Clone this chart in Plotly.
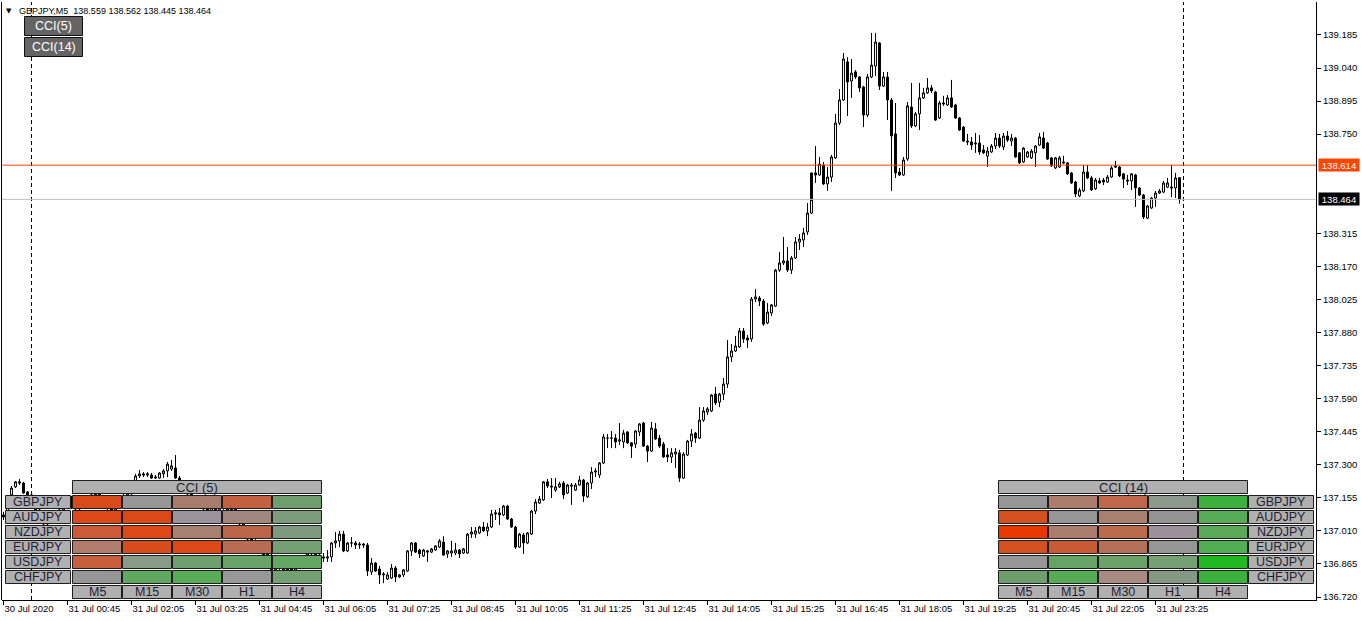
import plotly.graph_objects as go

# ---------------- data ----------------
chart_title = "GBPJPY,M5  138.559 138.562 138.445 138.464"

time_labels = ["30 Jul 2020", "31 Jul 00:45", "31 Jul 02:05", "31 Jul 03:25", "31 Jul 04:45",
               "31 Jul 06:05", "31 Jul 07:25", "31 Jul 08:45", "31 Jul 10:05", "31 Jul 11:25",
               "31 Jul 12:45", "31 Jul 14:05", "31 Jul 15:25", "31 Jul 16:45", "31 Jul 18:05",
               "31 Jul 19:25", "31 Jul 20:45", "31 Jul 22:05", "31 Jul 23:25"]
bars_per_label = 16
day_separator_bars = [7, 295]

price_ticks = [136.720, 136.865, 137.010, 137.155, 137.300, 137.445, 137.590, 137.735,
               137.880, 138.025, 138.170, 138.315, 138.750, 138.895, 139.040, 139.185]

ask_price = 138.614
bid_price = 138.464

opens = [
 137.080,137.071,137.168,137.203,137.225,137.220,137.181,137.168,137.141,137.102,
 137.075,137.040,137.049,137.062,137.080,137.102,137.124,137.154,137.115,137.106,
 137.119,137.137,137.154,137.168,137.172,137.163,137.137,137.111,137.102,137.124,
 137.146,137.163,137.172,137.189,137.251,137.260,137.255,137.255,137.242,137.242,
 137.260,137.273,137.281,137.286,137.242,137.211,137.189,137.172,137.154,137.132,
 137.115,137.106,137.097,137.111,137.102,137.119,137.111,137.102,137.106,137.093,
 137.040,137.005,136.974,136.966,136.948,136.917,136.904,136.904,136.839,136.856,
 136.847,136.839,136.843,136.834,136.847,136.874,136.900,136.909,136.913,136.904,
 136.896,136.891,136.896,136.957,136.966,136.996,136.922,136.957,136.957,136.948,
 136.952,136.948,136.830,136.869,136.843,136.817,136.799,136.803,136.847,136.808,
 136.817,136.834,136.922,136.957,136.926,136.900,136.917,136.917,136.926,136.939,
 136.961,136.909,136.913,136.913,136.926,136.913,136.913,136.996,136.996,137.001,
 137.027,137.010,137.027,137.084,137.089,137.080,137.119,137.062,137.027,136.939,
 136.992,136.957,136.996,137.097,137.132,137.146,137.225,137.207,137.189,137.203,
 137.220,137.176,137.211,137.189,137.211,137.233,137.159,137.220,137.268,137.255,
 137.308,137.417,137.417,137.417,137.404,137.400,137.444,137.396,137.391,137.444,
 137.483,137.382,137.360,137.457,137.417,137.391,137.343,137.334,137.347,137.352,
 137.242,137.343,137.404,137.439,137.417,137.496,137.531,137.536,137.610,137.575,
 137.610,137.654,137.773,137.799,137.817,137.887,137.856,137.852,138.027,138.031,
 138.018,137.922,137.966,137.996,138.154,138.185,138.194,138.154,138.207,138.277,
 138.286,138.321,138.404,138.580,138.571,138.615,138.532,138.562,138.646,138.799,
 138.900,139.067,138.983,139.023,139.001,138.957,138.834,139.001,139.049,139.150,
 138.961,139.001,138.900,138.751,138.584,138.571,138.641,138.869,138.786,138.839,
 138.909,138.931,138.953,138.935,138.821,138.887,138.878,138.909,138.878,138.821,
 138.781,138.720,138.716,138.707,138.711,138.681,138.654,138.672,138.698,138.733,
 138.694,138.742,138.720,138.733,138.668,138.628,138.650,138.646,138.668,138.702,
 138.733,138.711,138.646,138.602,138.606,138.628,138.624,138.580,138.540,138.479,
 138.501,138.584,138.558,138.510,138.545,138.549,138.540,138.562,138.611,138.606,
 138.576,138.549,138.545,138.571,138.514,138.483,138.382,138.426,138.470,138.492,
 138.496,138.518,138.518,138.514,138.559]

highs = [
 137.093,137.132,137.207,137.229,137.238,137.225,137.185,137.172,137.150,137.115,
 137.084,137.058,137.071,137.089,137.111,137.132,137.159,137.163,137.124,137.128,
 137.146,137.163,137.181,137.185,137.181,137.168,137.146,137.124,137.132,137.154,
 137.172,137.185,137.198,137.260,137.277,137.268,137.268,137.264,137.255,137.268,
 137.281,137.312,137.321,137.343,137.251,137.220,137.203,137.185,137.163,137.146,
 137.124,137.119,137.119,137.119,137.128,137.124,137.115,137.115,137.111,137.102,
 137.049,137.014,136.983,136.974,136.957,136.926,136.917,136.913,136.865,136.860,
 136.856,136.852,136.847,136.856,136.878,136.904,136.913,136.917,136.917,136.913,
 136.913,136.926,136.961,137.005,137.010,137.010,136.961,136.983,136.966,136.961,
 136.957,136.957,136.891,136.874,136.856,136.830,136.830,136.865,136.856,136.821,
 136.843,136.926,136.961,136.961,136.931,136.931,136.926,136.935,136.948,136.974,
 136.987,136.926,136.966,136.957,136.931,136.935,137.001,137.027,137.027,137.032,
 137.049,137.045,137.102,137.102,137.111,137.124,137.124,137.067,137.032,137.001,
 137.001,137.005,137.102,137.150,137.163,137.229,137.238,137.242,137.242,137.225,
 137.229,137.216,137.220,137.220,137.251,137.238,137.225,137.290,137.286,137.312,
 137.435,137.435,137.448,137.435,137.483,137.453,137.448,137.400,137.453,137.483,
 137.488,137.387,137.488,137.483,137.431,137.400,137.373,137.373,137.373,137.365,
 137.356,137.409,137.457,137.444,137.553,137.553,137.553,137.610,137.641,137.615,
 137.681,137.847,137.830,137.865,137.900,137.900,137.869,138.036,138.071,138.040,
 138.027,138.009,138.005,138.159,138.233,138.299,138.255,138.216,138.299,138.312,
 138.339,138.448,138.457,138.698,138.650,138.628,138.606,138.659,138.839,138.948,
 139.106,139.088,139.080,139.031,139.005,138.962,139.014,139.194,139.194,139.154,
 139.023,139.023,138.909,138.887,138.602,138.650,138.891,138.975,138.847,138.975,
 138.953,138.996,138.966,138.940,138.896,138.918,138.922,138.988,138.883,138.825,
 138.786,138.751,138.738,138.755,138.746,138.702,138.694,138.707,138.755,138.751,
 138.755,138.764,138.751,138.738,138.672,138.694,138.676,138.685,138.702,138.755,
 138.760,138.716,138.650,138.650,138.655,138.655,138.628,138.584,138.545,138.514,
 138.615,138.615,138.567,138.558,138.558,138.558,138.571,138.611,138.633,138.611,
 138.580,138.571,138.580,138.576,138.518,138.488,138.439,138.474,138.501,138.510,
 138.545,138.558,138.615,138.580,138.562]

lows = [
 137.058,137.067,137.159,137.198,137.211,137.172,137.163,137.132,137.093,137.062,
 137.027,137.023,137.040,137.053,137.071,137.093,137.115,137.106,137.093,137.097,
 137.111,137.128,137.146,137.159,137.150,137.128,137.102,137.093,137.097,137.115,
 137.137,137.154,137.163,137.181,137.242,137.246,137.246,137.238,137.238,137.238,
 137.242,137.246,137.273,137.238,137.203,137.181,137.163,137.146,137.124,137.106,
 137.097,137.089,137.093,137.093,137.097,137.102,137.093,137.097,137.084,137.032,
 136.996,136.966,136.957,136.939,136.909,136.896,136.896,136.830,136.834,136.839,
 136.830,136.834,136.821,136.830,136.843,136.869,136.891,136.900,136.896,136.896,
 136.874,136.874,136.874,136.935,136.939,136.917,136.917,136.939,136.931,136.931,
 136.935,136.812,136.817,136.830,136.777,136.781,136.795,136.799,136.786,136.803,
 136.808,136.830,136.900,136.913,136.891,136.896,136.874,136.913,136.922,136.935,
 136.900,136.891,136.896,136.904,136.891,136.909,136.909,136.979,136.979,136.996,
 137.005,136.987,137.023,137.058,137.036,137.075,137.058,137.023,136.931,136.935,
 136.909,136.952,136.992,137.084,137.128,137.141,137.198,137.154,137.181,137.198,
 137.150,137.172,137.124,137.185,137.207,137.137,137.154,137.194,137.246,137.242,
 137.303,137.373,137.373,137.373,137.387,137.373,137.391,137.330,137.373,137.426,
 137.378,137.312,137.356,137.409,137.373,137.330,137.312,137.308,137.286,137.225,
 137.238,137.338,137.378,137.396,137.413,137.488,137.518,137.531,137.562,137.553,
 137.584,137.637,137.751,137.795,137.812,137.834,137.812,137.839,138.014,137.996,
 137.909,137.917,137.953,137.992,138.146,138.176,138.146,138.137,138.203,138.242,
 138.255,138.308,138.400,138.536,138.567,138.527,138.501,138.540,138.641,138.790,
 138.896,138.830,138.909,138.992,138.935,138.781,138.825,138.996,139.005,138.944,
 138.957,138.812,138.501,138.558,138.567,138.567,138.633,138.777,138.781,138.768,
 138.904,138.926,138.931,138.808,138.817,138.874,138.874,138.865,138.817,138.764,
 138.716,138.702,138.681,138.668,138.659,138.663,138.606,138.668,138.685,138.689,
 138.681,138.716,138.698,138.646,138.619,138.624,138.646,138.641,138.606,138.698,
 138.685,138.637,138.606,138.597,138.602,138.619,138.571,138.532,138.474,138.474,
 138.496,138.553,138.501,138.505,138.532,138.527,138.536,138.558,138.602,138.562,
 138.514,138.527,138.505,138.431,138.479,138.378,138.378,138.422,138.431,138.488,
 138.492,138.514,138.474,138.470,138.445]

closes = [
 137.071,137.146,137.198,137.225,137.220,137.176,137.168,137.141,137.102,137.075,
 137.040,137.049,137.062,137.080,137.102,137.124,137.150,137.115,137.106,137.119,
 137.137,137.154,137.168,137.172,137.163,137.137,137.111,137.102,137.124,137.146,
 137.163,137.172,137.189,137.251,137.260,137.255,137.260,137.242,137.246,137.264,
 137.273,137.303,137.295,137.242,137.211,137.189,137.172,137.154,137.132,137.115,
 137.106,137.097,137.111,137.102,137.119,137.111,137.102,137.106,137.093,137.040,
 137.005,136.974,136.966,136.948,136.917,136.904,136.909,136.839,136.856,136.847,
 136.839,136.843,136.834,136.847,136.874,136.900,136.909,136.913,136.904,136.900,
 136.891,136.896,136.957,136.966,136.996,136.922,136.957,136.957,136.948,136.952,
 136.948,136.834,136.869,136.834,136.817,136.821,136.817,136.847,136.808,136.817,
 136.839,136.922,136.957,136.917,136.909,136.926,136.922,136.931,136.944,136.966,
 136.904,136.922,136.922,136.926,136.909,136.931,136.996,137.005,137.010,137.027,
 137.010,137.027,137.084,137.089,137.080,137.119,137.062,137.027,136.939,136.996,
 136.957,137.001,137.097,137.137,137.150,137.225,137.207,137.203,137.203,137.216,
 137.168,137.211,137.207,137.211,137.233,137.163,137.220,137.268,137.273,137.308,
 137.422,137.417,137.417,137.400,137.409,137.439,137.396,137.382,137.448,137.479,
 137.382,137.360,137.461,137.413,137.382,137.334,137.334,137.352,137.356,137.242,
 137.347,137.404,137.435,137.417,137.496,137.536,137.545,137.606,137.571,137.610,
 137.654,137.773,137.799,137.821,137.887,137.852,137.847,138.027,138.036,138.018,
 137.917,137.970,138.001,138.154,138.185,138.194,138.154,138.207,138.277,138.290,
 138.317,138.404,138.580,138.571,138.619,138.532,138.562,138.650,138.799,138.900,
 139.080,138.979,139.018,139.001,138.953,138.834,139.001,139.053,139.154,138.961,
 139.001,138.900,138.742,138.580,138.571,138.637,138.874,138.786,138.839,138.909,
 138.931,138.953,138.940,138.812,138.887,138.883,138.909,138.869,138.821,138.768,
 138.720,138.716,138.702,138.711,138.672,138.668,138.676,138.698,138.733,138.698,
 138.742,138.724,138.733,138.650,138.624,138.689,138.672,138.676,138.698,138.738,
 138.689,138.641,138.611,138.646,138.646,138.624,138.576,138.536,138.488,138.505,
 138.584,138.558,138.505,138.549,138.536,138.540,138.562,138.602,138.606,138.567,
 138.553,138.545,138.576,138.514,138.483,138.387,138.435,138.470,138.492,138.501,
 138.536,138.536,138.514,138.558,138.464]

pairs = ["GBPJPY", "AUDJPY", "NZDJPY", "EURJPY", "USDJPY", "CHFJPY"]
timeframes = ["M5", "M15", "M30", "H1", "H4"]
panel_titles = ["CCI (5)", "CCI (14)"]
button_labels = ["CCI(5)", "CCI(14)"]

# ---------------- styles ----------------
cci5_colors = [
    ["#D84A1A", "#969696", "#A87C6C", "#C26040", "#6E9E6E"],
    ["#DC4818", "#DC4818", "#9C949C", "#A08880", "#7C9C7C"],
    ["#CC5A38", "#DC4818", "#A88070", "#BC6448", "#7E9A7E"],
    ["#B07C6C", "#D84C1C", "#DC4818", "#B86C54", "#74A074"],
    ["#C85E3C", "#889A88", "#6EA06E", "#68A468", "#62A862"],
    ["#969696", "#60A860", "#58AC58", "#989898", "#74A074"],
]
cci14_colors = [
    ["#969696", "#AC7C6C", "#C0664A", "#8C988C", "#3CB03C"],
    ["#D4501E", "#969696", "#A88070", "#949494", "#58AC58"],
    ["#E83800", "#AC7C6C", "#BC6A4C", "#9C909C", "#5AAA5A"],
    ["#D4501E", "#C85A36", "#B47058", "#969696", "#52AE52"],
    ["#969696", "#66A466", "#6AA26A", "#74A074", "#22B822"],
    ["#6E9E6E", "#56AC56", "#A88C84", "#849884", "#3CB03C"],
]
FONT = "Liberation Sans, Arial, sans-serif"
LABEL_FILL = "#B0B0B0"
CELL_BORDER = "#1E1E1E"
TEXT_DARK = "#1E1E32"
ASK_COLOR = "#FF4500"
BID_COLOR = "#C0C0C0"

# plot-area geometry in pixels
FIG_W, FIG_H = 1362, 621
PL, PR, PT, PB = 2, 1316, 2, 600


def fx(px):
    return (px - PL) / (PR - PL)


def fy(py):
    return (PB - py) / (PB - PT)


n = len(closes)
xs = list(range(n))

fig = go.Figure()
fig.add_trace(go.Candlestick(
    x=xs, open=opens, high=highs, low=lows, close=closes,
    increasing=dict(line=dict(color="black", width=1), fillcolor="white"),
    decreasing=dict(line=dict(color="black", width=1), fillcolor="black"),
    whiskerwidth=0, hoverinfo="skip", showlegend=False,
))

shapes = []
annotations = []

# left frame line
shapes.append(dict(type="line", xref="paper", yref="paper", x0=fx(1.5), x1=fx(1.5), y0=0, y1=1,
                   line=dict(color="black", width=1), layer="above"))

# day separators
for b in day_separator_bars:
    shapes.append(dict(type="line", xref="x", yref="paper", x0=b, x1=b, y0=0, y1=1,
                       line=dict(color="black", width=1, dash="4px,3px"), layer="above"))

# ask / bid lines
shapes.append(dict(type="line", xref="paper", yref="y", x0=0, x1=1, y0=ask_price, y1=ask_price,
                   line=dict(color=ASK_COLOR, width=1), layer="above"))
shapes.append(dict(type="line", xref="paper", yref="y", x0=0, x1=1, y0=bid_price, y1=bid_price,
                   line=dict(color=BID_COLOR, width=1), layer="above"))


def rect(x0, y0, x1, y1, fill, line_color, text=None, font_color=TEXT_DARK, size=12):
    shapes.append(dict(type="rect", xref="paper", yref="paper",
                       x0=fx(x0), x1=fx(x1), y0=fy(y1), y1=fy(y0),
                       fillcolor=fill, line=dict(color=line_color, width=1), layer="above"))
    if text:
        annotations.append(dict(xref="paper", yref="paper", x=fx((x0 + x1) / 2), y=fy((y0 + y1) / 2),
                                text=text, showarrow=False, xanchor="center", yanchor="middle",
                                font=dict(family=FONT, size=size, color=font_color)))


# CCI buttons (top-left)
for k, lab in enumerate(button_labels):
    rect(24.5, 16.5 + 21 * k, 82.5, 35.5 + 21 * k, "#646464", "#101010", lab, "white", 12.5)

# panels
row_tops = [495.5 + 15 * r for r in range(len(pairs))]
cell_h = 13
col_w = 49
bottom_top = 495.5 + 15 * len(pairs)


def panel(x_cells, label_x, colors, title):
    rect(x_cells, 480.5, x_cells + 50 * len(timeframes) - 1, 493.5, LABEL_FILL, CELL_BORDER, title, TEXT_DARK, 13)
    for r, pair in enumerate(pairs):
        y0 = row_tops[r]
        rect(label_x, y0, label_x + 65, y0 + cell_h, LABEL_FILL, CELL_BORDER, pair, TEXT_DARK, 12.5)
        for c in range(len(timeframes)):
            x0 = x_cells + 50 * c
            rect(x0, y0, x0 + col_w, y0 + cell_h, colors[r][c], CELL_BORDER)
    for c, tf in enumerate(timeframes):
        x0 = x_cells + 50 * c
        rect(x0, bottom_top, x0 + col_w, bottom_top + cell_h, LABEL_FILL, CELL_BORDER, tf, TEXT_DARK, 12.5)


panel(72.5, 5.5, cci5_colors, panel_titles[0])
panel(998.5, 1248.5, cci14_colors, panel_titles[1])

# chart caption
annotations.append(dict(xref="paper", yref="paper", x=fx(4), y=fy(10.5), text="▼", showarrow=False,
                        xanchor="left", yanchor="middle", font=dict(family="DejaVu Sans", size=7, color="black")))
annotations.append(dict(xref="paper", yref="paper", x=fx(17), y=fy(10.5), text=chart_title, showarrow=False,
                        xanchor="left", yanchor="middle", font=dict(family=FONT, size=9, color="black")))

# price markers on the right axis
for price, bg in [(ask_price, ASK_COLOR), (bid_price, "black")]:
    annotations.append(dict(xref="paper", yref="y", x=1, y=price, xanchor="left", yanchor="middle",
                            xshift=2, text=f"{price:.3f}", showarrow=False, bgcolor=bg,
                            width=40, height=12, borderpad=0,
                            font=dict(family=FONT, size=9.5, color="white")))

fig.update_layout(
    width=FIG_W, height=FIG_H,
    margin=dict(l=PL, r=FIG_W - PR, t=PT, b=FIG_H - PB, pad=0),
    paper_bgcolor="white", plot_bgcolor="white",
    showlegend=False,
    shapes=shapes, annotations=annotations,
    xaxis=dict(range=[-0.375, 328.125], tickvals=[bars_per_label * k for k in range(len(time_labels))],
               ticktext=time_labels, ticks="outside", ticklen=4, tickcolor="black",
               showline=True, linecolor="black", linewidth=1, showgrid=False, zeroline=False,
               ticklabelposition="outside right", rangeslider=dict(visible=False),
               tickfont=dict(family=FONT, size=9.5, color="black")),
    yaxis=dict(range=[136.7069, 139.3297], side="right", tickvals=price_ticks,
               ticktext=[f"{v:.3f}" for v in price_ticks], ticks="outside", ticklen=4,
               tickcolor="black", showline=True, linecolor="black", linewidth=1,
               showgrid=False, zeroline=False,
               tickfont=dict(family=FONT, size=9.5, color="black")),
)

fig.write_html("out.html", config={"displayModeBar": False},
               post_script="document.body.style.margin='0';document.body.style.overflow='hidden';")
